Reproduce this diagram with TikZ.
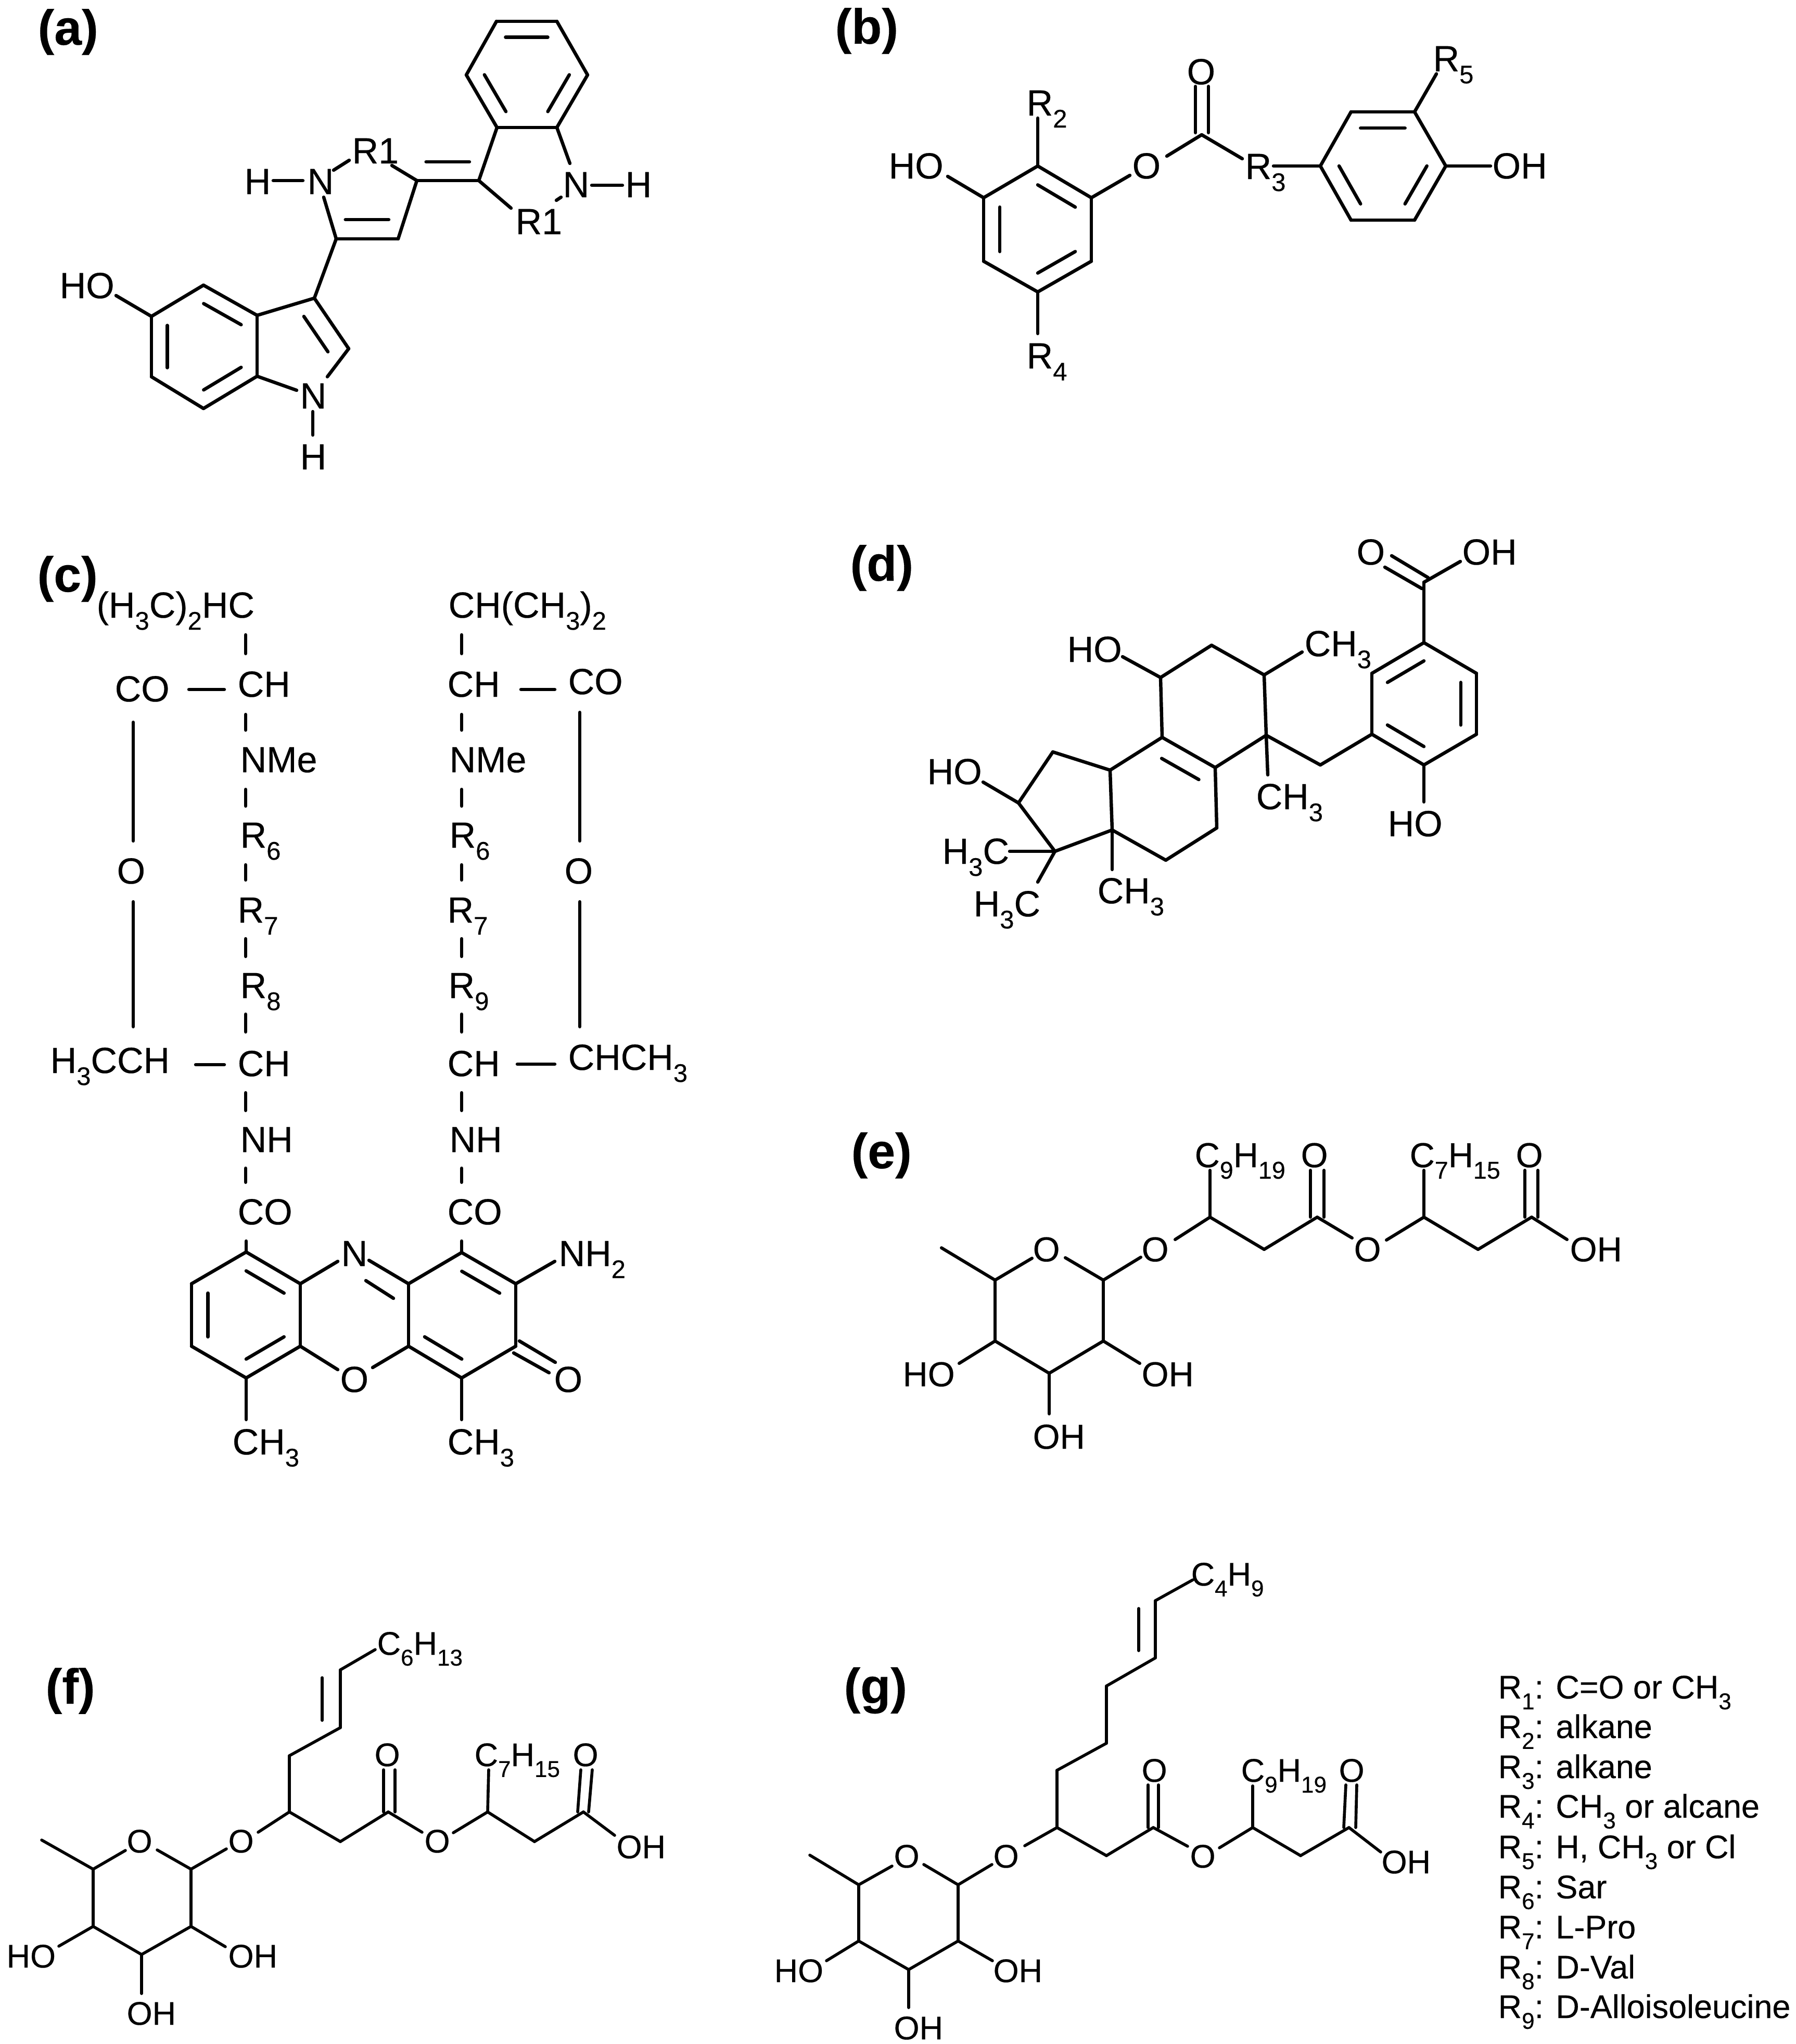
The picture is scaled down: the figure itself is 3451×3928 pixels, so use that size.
\documentclass[tikz,border=0pt]{standalone}
\usepackage{fontspec}
\setmainfont{Liberation Sans}[FakeBold=0.3]
\usetikzlibrary{calc}
\def\AtomSize{16.8}
\def\BondWidth{1.55pt}
\def\Sb#1{\raisebox{-.33em}{\scalebox{.7}{#1}}}
\tikzset{bond/.style={line width=\BondWidth, line cap=round},
    atom/.style={anchor=base west, inner sep=0pt, xshift=-1pt, font=\fontsize{\AtomSize}{20}\selectfont},
    panel/.style={anchor=base west, inner sep=0pt, xshift=-1pt, font=\fontsize{22.8}{26}\selectfont\bfseries}
    }
\def\Atoms#1{%
\foreach \n/\x/\y in {#1}
  \coordinate (\n) at (\x,\y);
}
\def\Bonds#1{%
\foreach \p/\q in {#1}
  \draw[bond] (\p) -- (\q);
}
\def\Inner#1#2#3{%
\draw[bond] ($(#1)!.3!(#3)$) -- ($(#2)!.3!(#3)$);
}
\def\Label#1#2#3#4{%
\node[atom] (#1) at (#2,#3) {#4};
}
\begin{document}
\begin{tikzpicture}[x=0.24pt, y=-0.24pt]
\useasboundingbox (0,0) rectangle (3451,3928);
% (a)
\node[panel] (pa) at (76,86) {(a)};
\Atoms{at1/954/41, at2/1070/41, at3/1129/144, at4/1070/245, at5/955/245, at6/896/144, atc/1012/143,
  an1/1095/314, an2/1137/356, an3/1196/356, ax/920/347, ar1/982/400, ar2/1069/385, ar3/1078/379,
  ap1/801/347, ap2/765/459, ap3/646/459, an4/622/379, ah1/525/347, ah2/582/347, an5/641/327, an6/671/308,
  ap4/753/318, apc/705/336, axc/860/227,
  ai1/604/573, ai2/670/670, ai3/629/724, ai4/570/750, aic/537/690, an7/601/791, an8/601/836,
  ab1/391/548, ab2/494/606, ab3/494/723, ab4/391/785, ab5/291/724, ab6/291/608, abc/392/666, ao/223/568}
\Bonds{at1/at2, at2/at3, at3/at4, at4/at5, at5/at6, at6/at1, at4/an1, an2/an3, at5/ax, ax/ar1, ar2/ar3,
  ap1/ax, ap1/ap2, ap2/ap3, ap3/an4, ah1/ah2, an5/an6, ap4/ap1, ap3/ai1,
  ai1/ai2, ai2/ai3, ab3/ai4, ab2/ai1, an7/an8,
  ab1/ab2, ab2/ab3, ab3/ab4, ab4/ab5, ab5/ab6, ab6/ab1, ab6/ao}
\Inner{at1}{at2}{atc}
\Inner{at3}{at4}{atc}
\Inner{at5}{at6}{atc}
\Inner{ap1}{ax}{axc}
\Inner{ap2}{ap3}{apc}
\Inner{ai1}{ai2}{aic}
\Inner{ab1}{ab2}{abc}
\Inner{ab3}{ab4}{abc}
\Inner{ab5}{ab6}{abc}
\Label{aN1}{1085}{379}{N}
\Label{aH1}{1205}{379}{H}
\Label{aR1}{680}{314}{R1}
\Label{aR2}{994}{450}{R1}
\Label{aH2}{473}{373}{H}
\Label{aN2}{594}{373}{N}
\Label{aN3}{580}{785}{N}
\Label{aH3}{580}{902}{H}
\Label{aHO}{118}{573}{HO}
% (b)
\node[panel] (pb) at (1608,84) {(b)};
\Atoms{br1/1994/319, br2/2097/380, br3/2097/502, br4/1994/561, br5/1890/502, br6/1890/380, brc/1994/440,
  bn1/1994/227, bn2/1821/339, bn3/2171/337, bn4/2242/300, bc/2309/259, bo1/2297/166, bo2/2297/255,
  bo3/2322/166, bo4/2322/255, bn5/2387/305, bn6/2447/319, bn7/1994/641,
  bs1/2537/319, bs2/2596/215, bs3/2718/215, bs4/2778/319, bs5/2718/423, bs6/2596/423, bsc/2657/319,
  bn8/2760/142, bn9/2864/319}
\Bonds{br1/br2, br2/br3, br3/br4, br4/br5, br5/br6, br6/br1, br1/bn1, br6/bn2, br2/bn3, bn4/bc,
  bo1/bo2, bo3/bo4, bc/bn5, bn6/bs1, br4/bn7,
  bs1/bs2, bs2/bs3, bs3/bs4, bs4/bs5, bs5/bs6, bs6/bs1, bs3/bn8, bs4/bn9}
\Inner{br1}{br2}{brc}
\Inner{br3}{br4}{brc}
\Inner{br5}{br6}{brc}
\Inner{bs2}{bs3}{bsc}
\Inner{bs4}{bs5}{bsc}
\Inner{bs6}{bs1}{bsc}
\Label{bR2}{1976}{222}{R\Sb{2}}
\Label{bHO}{1711}{343}{HO}
\Label{bO1}{2179}{343}{O}
\Label{bO2}{2284}{162}{O}
\Label{bR3}{2396}{344}{R\Sb{3}}
\Label{bR5}{2757}{137}{R\Sb{5}}
\Label{bOH}{2871}{343}{OH}
\Label{bR4}{1976}{708}{R\Sb{4}}
% (c)
\node[panel] (pc) at (75,1137) {(c)};
\foreach \i/\p/\q in {1/1220/1256, 2/1373/1403, 3/1517/1549, 4/1662/1691, 5/1804/1838, 6/1949/1983, 7/2100/2134, 8/2245/2272}{
  \coordinate (cl\i a) at (472,\p);
  \coordinate (cl\i b) at (472,\q);
  \coordinate (cr\i a) at (887,\p);
  \coordinate (cr\i b) at (887,\q);
  \draw[bond] (cl\i a) -- (cl\i b);
  \draw[bond] (cr\i a) -- (cr\i b);
}
\Atoms{cd1/363/1325, cd2/431/1325, cd3/1001/1325, cd4/1066/1325, cd5/376/2046, cd6/431/2046, cd7/994/2045, cd8/1066/2045,
  cv1/256/1388, cv2/256/1616, cv3/256/1733, cv4/256/1973, cv5/1114/1369, cv6/1114/1616, cv7/1114/1733, cv8/1114/1973,
  cu1/473/2406, cu2/577/2467, cu3/577/2587, cu4/473/2648, cu5/368/2587, cu6/368/2467, cuc/473/2527,
  cw1/887/2407, cw2/991/2467, cw3/991/2587, cw4/887/2648, cv/785/2467, cx/785/2587, cwc/888/2527,
  ca1/473/2385, ca2/887/2385, cn1/649/2424, cn2/709/2422, cn3/703/2461, cn4/756/2495, co1/649/2632, co2/716/2628,
  cn5/1066/2424, ce1/998/2577, ce2/1067/2618, ce3/987/2600, ce4/1055/2638, cm1/473/2728, cm2/887/2728}
\Bonds{cd1/cd2, cd3/cd4, cd5/cd6, cd7/cd8, cv1/cv2, cv3/cv4, cv5/cv6, cv7/cv8, ca1/cu1, ca2/cw1,
  cu1/cu2, cu2/cu3, cu3/cu4, cu4/cu5, cu5/cu6, cu6/cu1, cw1/cw2, cw2/cw3, cw3/cw4, cw4/cx, cx/cv, cv/cw1,
  cu2/cn1, cn2/cv, cn3/cn4, cu3/co1, cx/co2, cw2/cn5, ce1/ce2, ce3/ce4, cu4/cm1, cw4/cm2}
\Inner{cu1}{cu2}{cuc}
\Inner{cu3}{cu4}{cuc}
\Inner{cu5}{cu6}{cuc}
\Inner{cw1}{cw2}{cwc}
\Inner{cx}{cw4}{cwc}
\Label{cA1}{189}{1187}{(H\Sb{3}C)\Sb{2}HC}
\Label{cA2}{865}{1187}{CH(CH\Sb{3})\Sb{2}}
\Label{cCH1}{460}{1339}{CH}
\Label{cCH2}{863}{1339}{CH}
\Label{cCO1}{224}{1348}{CO}
\Label{cCO2}{1095}{1334}{CO}
\Label{cNM1}{465}{1484}{NMe}
\Label{cNM2}{867}{1484}{NMe}
\Label{cR61}{465}{1629}{R\Sb{6}}
\Label{cR62}{867}{1629}{R\Sb{6}}
\Label{cO1}{228}{1698}{O}
\Label{cO2}{1088}{1698}{O}
\Label{cR71}{460}{1773}{R\Sb{7}}
\Label{cR72}{863}{1773}{R\Sb{7}}
\Label{cR8}{465}{1918}{R\Sb{8}}
\Label{cR9}{865}{1918}{R\Sb{9}}
\Label{cCH3}{460}{2068}{CH}
\Label{cCH4}{863}{2068}{CH}
\Label{cB1}{100}{2062}{H\Sb{3}CCH}
\Label{cB2}{1095}{2056}{CHCH\Sb{3}}
\Label{cNH1}{465}{2214}{NH}
\Label{cNH2}{867}{2214}{NH}
\Label{cCO3}{460}{2353}{CO}
\Label{cCO4}{863}{2353}{CO}
\Label{cN}{659}{2433}{N}
\Label{cNH3}{1077}{2433}{NH\Sb{2}}
\Label{cO3}{657}{2675}{O}
\Label{cO4}{1068}{2675}{O}
\Label{cM1}{450}{2795}{CH\Sb{3}}
\Label{cM2}{863}{2795}{CH\Sb{3}}
% (d)
\node[panel] (pd) at (1637,1116) {(d)};
\Atoms{dk/2736/1119, dk1/2674/1068, dk2/2744/1110, dk3/2661/1090, dk4/2732/1131, dk5/2806/1079,
  dm1/2736/1235, dm2/2837/1294, dm3/2837/1411, dm4/2736/1470, dm5/2636/1411, dm6/2636/1294, dmc/2736/1352,
  dn1/2736/1541, dc1/2537/1470, dq/2433/1413, dg1/2429/1297, dg2/2328/1240, dg3/2230/1302, dg4/2233/1417, dg5/2335/1475,
  dgc/2230/1552, dn2/2502/1253, dn3/2157/1262, dn4/2436/1489, dh1/2338/1591, dh2/2240/1653, dh3/2137/1595, dh4/2133/1480,
  dj1/2023/1445, dj2/1957/1543, dj3/2027/1636, dn5/1889/1503, dn6/1940/1636, dn7/1994/1695, dn8/2137/1671}
\Bonds{dk1/dk2, dk3/dk4, dk/dk5, dk/dm1, dm1/dm2, dm2/dm3, dm3/dm4, dm4/dm5, dm5/dm6, dm6/dm1, dm4/dn1,
  dm5/dc1, dc1/dq, dq/dg1, dg1/dg2, dg2/dg3, dg3/dg4, dg4/dg5, dg5/dq, dg1/dn2, dg3/dn3, dq/dn4,
  dg5/dh1, dh1/dh2, dh2/dh3, dh3/dh4, dh4/dg4, dh4/dj1, dj1/dj2, dj2/dj3, dj3/dh3, dj2/dn5, dj3/dn6, dj3/dn7, dh3/dn8}
\Inner{dm1}{dm6}{dmc}
\Inner{dm2}{dm3}{dmc}
\Inner{dm4}{dm5}{dmc}
\Inner{dg4}{dg5}{dgc}
\Label{dO}{2610}{1085}{O}
\Label{dOH1}{2813}{1085}{OH}
\Label{dHO1}{2670}{1607}{HO}
\Label{dM1}{2510}{1261}{CH\Sb{3}}
\Label{dHO2}{2054}{1272}{HO}
\Label{dM2}{2417}{1555}{CH\Sb{3}}
\Label{dHO3}{1785}{1507}{HO}
\Label{dM3}{1814}{1660}{H\Sb{3}C}
\Label{dM4}{1874}{1761}{H\Sb{3}C}
\Label{dM5}{2112}{1736}{CH\Sb{3}}
% (e)
\def\AtomSize{16}
\def\BondWidth{1.45pt}
\node[panel] (pe) at (1639,2245) {(e)};
\Atoms{ec1/2325/2339, ee1/2325/2249, ec2/2429/2401, ec3/2531/2339, ed1/2518/2249, ed2/2518/2339, ed3/2544/2249, ed4/2544/2339,
  ee2/2598/2379, ee3/2664/2383, ec4/2736/2339, ee4/2736/2249, ec5/2840/2401, ec6/2943/2339,
  ed5/2930/2249, ed6/2930/2339, ed7/2955/2249, ed8/2955/2339, ee5/3011/2382, ee6/2258/2382,
  es1/2120/2460, ee7/2192/2416, es2/2120/2577, es3/2016/2639, es4/1912/2577, es5/1912/2460, eme/1809/2398,
  ee8/1983/2418, ee9/2047/2417, ee10/2190/2620, ee11/1843/2620, ee12/2016/2717}
\Bonds{ec1/ee1, ec1/ec2, ec2/ec3, ed1/ed2, ed3/ed4, ec3/ee2, ee3/ec4, ec4/ee4, ec4/ec5, ec5/ec6, ed5/ed6, ed7/ed8,
  ec6/ee5, ee6/ec1, es1/ee7, es1/es2, es2/es3, es3/es4, es4/es5, es5/eme, es5/ee8, ee9/es1, es2/ee10, es4/ee11, es3/ee12}
\Label{eC1}{2299}{2243}{C\Sb{9}H\Sb{19}}
\Label{eC2}{2712}{2243}{C\Sb{7}H\Sb{15}}
\Label{eO1}{2503}{2243}{O}
\Label{eO2}{2916}{2243}{O}
\Label{eO3}{2605}{2424}{O}
\Label{eOH1}{3020}{2424}{OH}
\Label{eO4}{2197}{2424}{O}
\Label{eO5}{1988}{2424}{O}
\Label{eOH2}{2197}{2664}{OH}
\Label{eHO}{1738}{2664}{HO}
\Label{eOH3}{1988}{2784}{OH}
% (f)
\def\AtomSize{15.1}
\def\BondWidth{1.35pt}
\node[panel] (pf) at (91,3274) {(f)};
\Atoms{fa1/721/3170, fa2/654/3209, fa3/654/3320, fa4/619/3224, fa5/619/3306, fa6/556/3374, fc1/556/3482,
  fe1/496/3521, fc2/654/3539, fc3/746/3482, fd1/737/3401, fd2/737/3482, fd3/759/3401, fd4/759/3482,
  fe2/811/3521, fe3/871/3522, fc4/937/3482, fe4/939/3401, fc5/1027/3539, fc6/1121/3482,
  fd5/1110/3482, fd6/1116/3401, fd7/1131/3482, fd8/1138/3401, fe5/1181/3527,
  fs1/367/3592, fe6/435/3553, fs2/367/3702, fs3/272/3756, fs4/179/3702, fs5/179/3592, fme/80/3536,
  fe7/241/3556, fe8/302/3555, fe9/433/3741, fe10/113/3740, fe11/272/3831}
\Bonds{fa1/fa2, fa2/fa3, fa4/fa5, fa3/fa6, fa6/fc1, fe1/fc1, fc1/fc2, fc2/fc3, fd1/fd2, fd3/fd4, fc3/fe2, fe3/fc4,
  fc4/fe4, fc4/fc5, fc5/fc6, fd5/fd6, fd7/fd8, fc6/fe5, fs1/fe6, fs1/fs2, fs2/fs3, fs3/fs4, fs4/fs5, fs5/fme,
  fs5/fe7, fe8/fs1, fs2/fe9, fs4/fe10, fs3/fe11}
\Label{fC1}{728}{3180}{C\Sb{6}H\Sb{13}}
\Label{fO1}{442}{3560}{O}
\Label{fO2}{723}{3394}{O}
\Label{fO3}{819}{3560}{O}
\Label{fC2}{915}{3394}{C\Sb{7}H\Sb{15}}
\Label{fO4}{1104}{3394}{O}
\Label{fOH1}{1188}{3571}{OH}
\Label{fO5}{247}{3560}{O}
\Label{fOH2}{442}{3781}{OH}
\Label{fHO}{16}{3781}{HO}
\Label{fOH3}{247}{3891}{OH}
% (g)
\node[panel] (pg) at (1625,3273) {(g)};
\Atoms{ga1/2292/3036, ga2/2220/3076, ga3/2220/3186, ga4/2188/3091, ga5/2188/3172, ga6/2126/3240, ga7/2126/3350, ga8/2031/3402, gc1/2031/3512,
  ge1/1969/3547, gc2/2126/3566, gc3/2216/3512, gd1/2206/3430, gd2/2206/3512, gd3/2226/3430, gd4/2226/3512,
  ge2/2282/3548, ge3/2343/3551, gc4/2407/3512, ge4/2407/3432, gc5/2499/3566, gc6/2592/3512,
  gd5/2582/3512, gd6/2586/3430, gd7/2605/3512, gd8/2607/3430, ge5/2653/3559,
  gs1/1841/3622, ge6/1906/3583, gs2/1841/3730, gs3/1746/3785, gs4/1650/3730, gs5/1650/3622, gme/1556/3565,
  ge7/1714/3586, ge8/1775/3583, ge9/1907/3768, ge10/1588/3768, ge11/1746/3858}
\Bonds{ga1/ga2, ga2/ga3, ga4/ga5, ga3/ga6, ga6/ga7, ga7/ga8, ga8/gc1, ge1/gc1, gc1/gc2, gc2/gc3, gd1/gd2, gd3/gd4,
  gc3/ge2, ge3/gc4, gc4/ge4, gc4/gc5, gc5/gc6, gd5/gd6, gd7/gd8, gc6/ge5, gs1/ge6, gs1/gs2, gs2/gs3, gs3/gs4, gs4/gs5,
  gs5/gme, gs5/ge7, ge8/gs1, gs2/ge9, gs4/ge10, gs3/ge11}
\Label{gC1}{2292}{3047}{C\Sb{4}H\Sb{9}}
\Label{gO1}{1912}{3589}{O}
\Label{gO2}{2197}{3424}{O}
\Label{gO3}{2290}{3589}{O}
\Label{gC2}{2388}{3424}{C\Sb{9}H\Sb{19}}
\Label{gO4}{2576}{3424}{O}
\Label{gOH1}{2658}{3600}{OH}
\Label{gO5}{1721}{3589}{O}
\Label{gOH2}{1912}{3809}{OH}
\Label{gHO}{1491}{3809}{HO}
\Label{gOH3}{1721}{3919}{OH}
% R groups
\foreach \i/\y/\t in {1/3264/{C=O or CH\Sb{3}}, 2/3340/alkane, 3/3417/alkane, 4/3493/{CH\Sb{3} or alcane},
    5/3571/{H, CH\Sb{3} or Cl}, 6/3648/Sar, 7/3725/L-Pro, 8/3802/D-Val, 9/3878/D-Alloisoleucine}
  \node[atom] (leg\i) at (2882,\y) {R\Sb{\i}: \t};
\end{tikzpicture}
\end{document}
